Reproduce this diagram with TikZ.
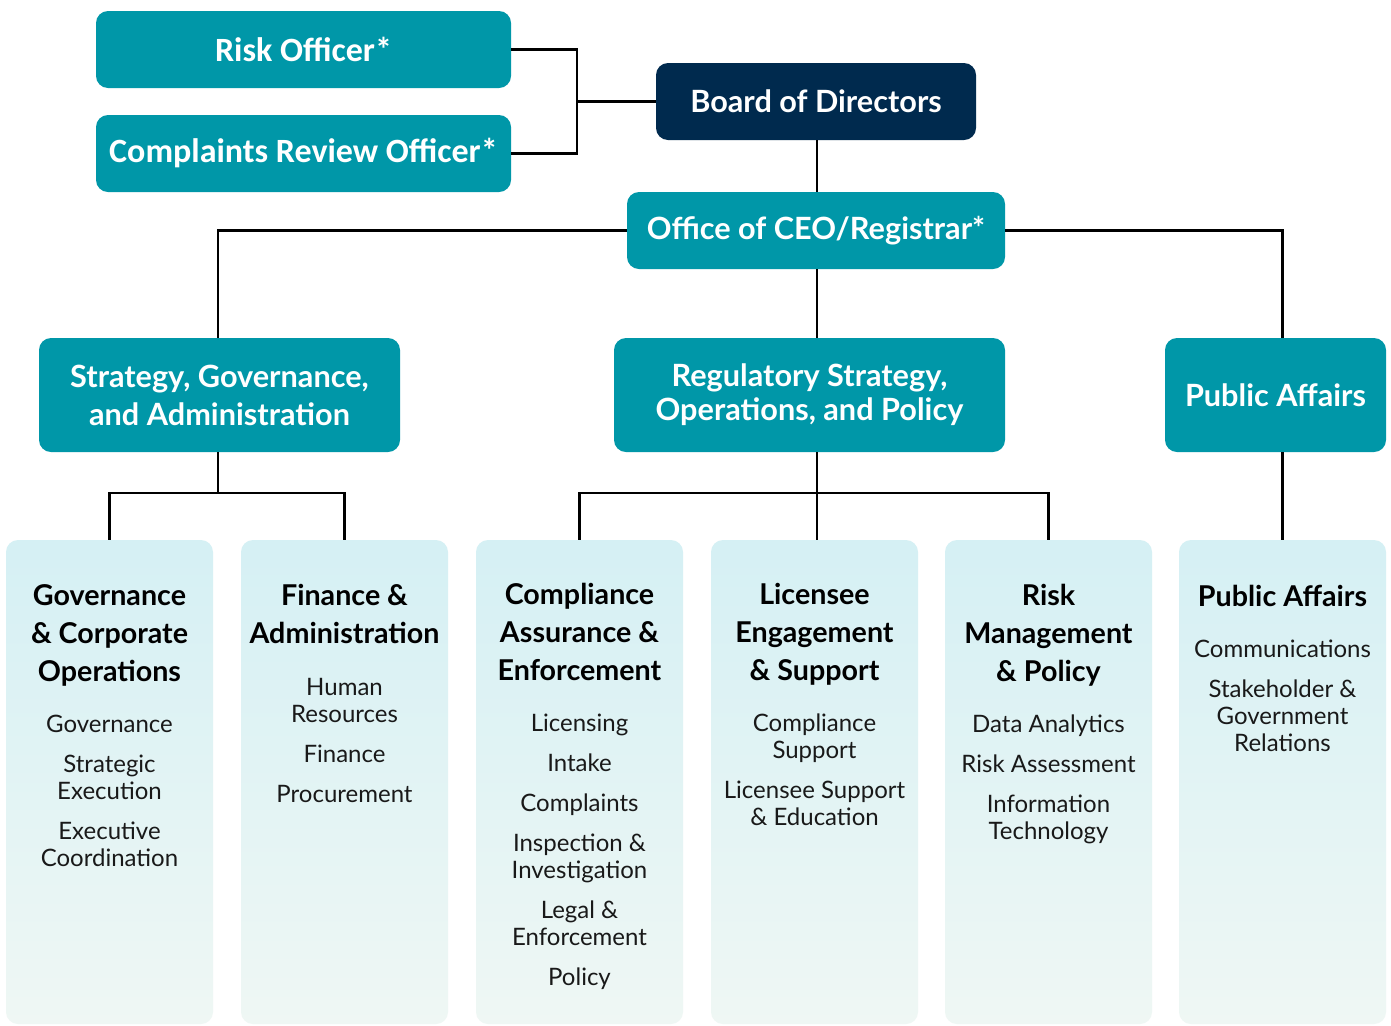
\documentclass[tikz,border=0pt]{standalone}
\usepackage{fontspec}
\setmainfont{Lato}
\newfontfamily\calfont{Carlito}
\usetikzlibrary{positioning,calc}

\definecolor{orgteal}{RGB}{0,151,168}
\definecolor{orgnavy}{RGB}{0,42,78}
\definecolor{coltop}{RGB}{213,240,244}
\definecolor{colbot}{RGB}{239,247,244}
\definecolor{coltext}{RGB}{25,25,25}

\tikzset{
    unitbox/.style={rounded corners=9pt, fill=orgteal, text=white, inner sep=0pt,
        align=center, font=\bfseries\fontsize{23}{28.5}\selectfont},
    officebox/.style={unitbox, minimum width=311.25pt, minimum height=57.75pt,
        font=\calfont\bfseries\fontsize{25.5}{28}\selectfont},
    colbox/.style={rounded corners=9pt, top color=coltop, bottom color=colbot,
        minimum width=155.25pt, minimum height=363pt, inner sep=0pt},
    % base = baseline of the last line
    coltitle/.style={anchor=base, align=center, inner sep=0pt, text=black,
        font=\bfseries\fontsize{21.5}{28.2}\selectfont},
    colitems/.style={anchor=base, align=center, inner sep=0pt, text=coltext,
        font=\fontsize{18}{20.25}\selectfont},
    link/.style={line width=1.7pt}
}

\begin{document}
\begin{tikzpicture}[x=0.75pt, y=-0.75pt]
    \fill[white] (0, 0) rectangle (1391, 1025);
    \useasboundingbox (0, 0) rectangle (1391, 1025);
    \clip (0, 0) rectangle (1391, 1025);

    % top of the chart
    \node[officebox] (risk) at (303.5, 49.5) {Risk Officer*};
    \node[officebox] (cro) at (303.5, 153.5) {Complaints Review Officer*};
    \node[unitbox, fill=orgnavy, minimum width=240pt, minimum height=57.75pt]
        (board) at (816, 101.5) {Board of Directors};
    \node[unitbox, minimum width=283.5pt, minimum height=57.75pt]
        (ceo) at (816, 230.5) {Office of CEO/Registrar*};

    % divisions
    \node[unitbox, minimum width=270.75pt, minimum height=85.5pt]
        (sga) at (219.5, 395) {Strategy, Governance,\\and Administration};
    \node[unitbox, minimum width=293.25pt, minimum height=85.5pt,
        font=\bfseries\fontsize{23}{25.5}\selectfont]
        (reg) at (809.5, 395) {Regulatory Strategy,\\Operations, and Policy};
    \node[unitbox, minimum width=165.75pt, minimum height=85.5pt]
        (pa) at (1275.5, 395) {Public Affairs};

    % departments
    \node[colbox] (gco) at (109.5, 782) {};
    \node[colbox] (fa) at (344.5, 782) {};
    \node[colbox] (cae) at (579.5, 782) {};
    \node[colbox] (les) at (814.5, 782) {};
    \node[colbox] (rmp) at (1048.5, 782) {};
    \node[colbox] (pac) at (1282.5, 782) {};

    \node[coltitle] (gco-t) at (109.5, 681) {Governance\\\& Corporate\\Operations};
    \node[colitems] (gco-i) at (109.5, 866)
        {Governance\\[9.75pt]Strategic\\Execution\\[9.75pt]Executive\\Coordination};

    \node[coltitle] (fa-t) at (344.5, 643.5) {Finance \&\\Administration};
    \node[colitems] (fa-i) at (344.5, 802)
        {Human\\Resources\\[9.75pt]Finance\\[9.75pt]Procurement};

    \node[coltitle] (cae-t) at (579.5, 680) {Compliance\\Assurance \&\\Enforcement};
    \node[colitems] (cae-i) at (579.5, 985)
        {Licensing\\[9.75pt]Intake\\[9.75pt]Complaints\\[9.75pt]Inspection \&\\Investigation\\[9.75pt]Legal \&\\Enforcement\\[9.75pt]Policy};

    \node[coltitle] (les-t) at (814.5, 680) {Licensee\\Engagement\\\& Support};
    \node[colitems] (les-i) at (814.5, 825)
        {Compliance\\Support\\[9.75pt]Licensee Support\\\& Education};

    \node[coltitle] (rmp-t) at (1048.5, 681) {Risk\\Management\\\& Policy};
    \node[colitems] (rmp-i) at (1048.5, 839)
        {Data Analytics\\[9.75pt]Risk Assessment\\[9.75pt]Information\\Technology};

    \node[coltitle] (pac-t) at (1282.5, 606) {Public Affairs};
    \node[colitems] (pac-i) at (1282.5, 751)
        {Communications\\[9.75pt]Stakeholder \&\\Government\\Relations};

    % reporting lines
    \coordinate (brdbus) at (577, 101.5);
    \coordinate (sgabus) at (218, 493);
    \coordinate (regbus) at (817, 493);

    \draw[link] (risk.east) -| (brdbus) |- (cro.east);
    \draw[link] (brdbus) -- (board.west);
    \draw[link] (board.south -| regbus) -- (ceo.north -| regbus);
    \draw[link] (ceo.west) -| (sga.north -| sgabus);
    \draw[link] (ceo.east) -| (pa.north -| pac.north);
    \draw[link] (ceo.south -| regbus) -- (reg.north -| regbus);

    \draw[link] (sga.south -| sgabus) -- (sgabus);
    \draw[link] (gco.north) |- (sgabus) -| (fa.north);
    \draw[link] (reg.south -| regbus) -- (les.north -| regbus);
    \draw[link] (cae.north) |- (regbus) -| (rmp.north);
    \draw[link] (pa.south -| pac.north) -- (pac.north);
\end{tikzpicture}
\end{document}
